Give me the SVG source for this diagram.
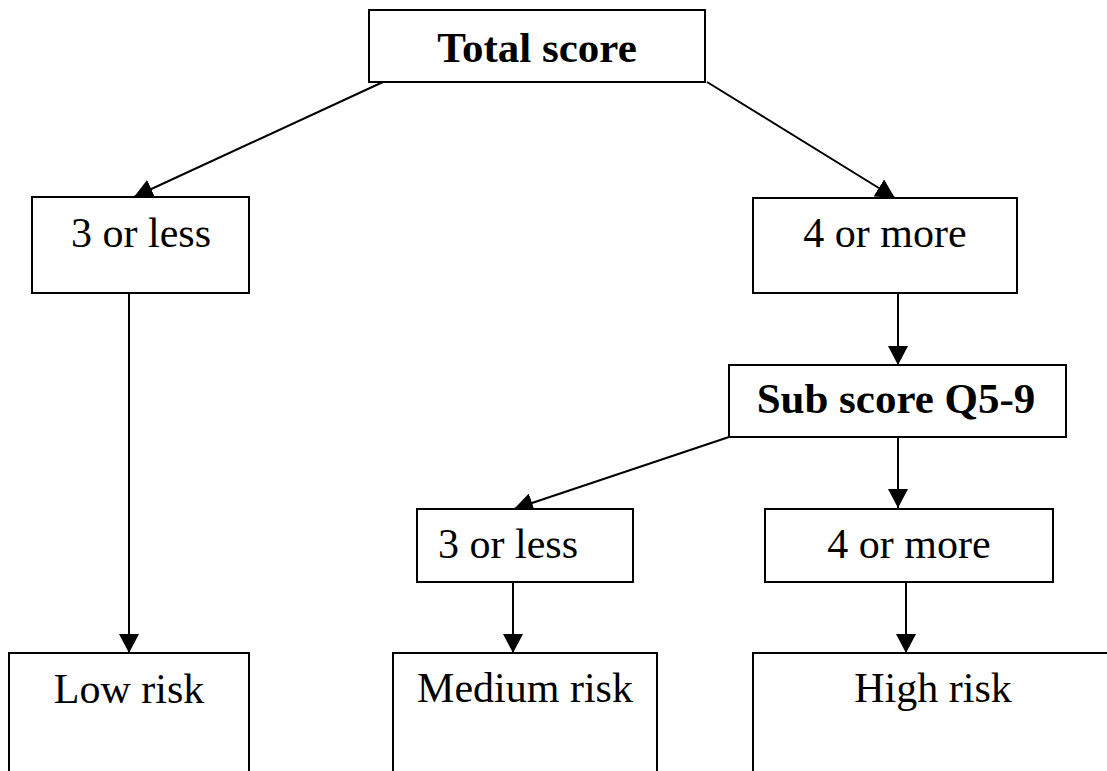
<svg xmlns="http://www.w3.org/2000/svg" width="1107" height="771" viewBox="0 0 1107 771" font-family="'Liberation Serif', 'Times New Roman', Times, 'DejaVu Serif', serif">
<style>
.box{fill:#fff;stroke:#000;stroke-width:2}
.lbl{font-family:'Liberation Serif','Times New Roman',Times,'DejaVu Serif',serif;font-size:42px;fill:#000;text-anchor:middle}
.b{font-weight:bold;font-size:43px}
.con{stroke:#000;stroke-width:2;fill:none;marker-end:url(#arr)}
</style>
<defs>
<marker id="arr" markerUnits="userSpaceOnUse" markerWidth="20" markerHeight="20" refX="19" refY="10" orient="auto">
<path d="M0,0 L19,10 L0,20 z" fill="#000"/>
</marker>
</defs>
<rect width="1107" height="771" fill="#fff"/>
<g id="connectors">
<line class="con" x1="383" y1="82" x2="134" y2="197"/>
<line class="con" x1="707" y1="82" x2="895" y2="198"/>
<line class="con" x1="898" y1="293" x2="898" y2="365"/>
<line class="con" x1="729" y1="437" x2="514" y2="509"/>
<line class="con" x1="898" y1="437" x2="898" y2="508"/>
<line class="con" x1="129" y1="293" x2="129" y2="653"/>
<line class="con" x1="513" y1="582" x2="513" y2="653"/>
<line class="con" x1="906" y1="582" x2="906" y2="653"/>
</g>
<g id="total">
<rect class="box" x="369" y="10" width="336" height="72"/>
<text class="lbl b" x="537" y="62">Total score</text>
</g>
<g id="left3">
<rect class="box" x="32" y="197" width="217" height="96"/>
<text class="lbl" x="141" y="247">3 or less</text>
</g>
<g id="right4">
<rect class="box" x="753" y="198" width="264" height="95"/>
<text class="lbl" x="885" y="247">4 or more</text>
</g>
<g id="sub">
<rect class="box" x="729" y="365" width="337" height="72"/>
<text class="lbl b" x="896" y="413">Sub score Q5-9</text>
</g>
<g id="sub3">
<rect class="box" x="417" y="509" width="216" height="73"/>
<text class="lbl" x="438" y="558" style="text-anchor:start">3 or less</text>
</g>
<g id="sub4">
<rect class="box" x="765" y="509" width="288" height="73"/>
<text class="lbl" x="909" y="558">4 or more</text>
</g>
<g id="low">
<rect class="box" x="9" y="653" width="240" height="130"/>
<text class="lbl" x="129" y="703">Low risk</text>
</g>
<g id="medium">
<rect class="box" x="393" y="653" width="264" height="130"/>
<text class="lbl" x="525" y="702">Medium risk</text>
</g>
<g id="high">
<rect class="box" x="753" y="653" width="360" height="130"/>
<text class="lbl" x="933" y="702">High risk</text>
</g>
</svg>
